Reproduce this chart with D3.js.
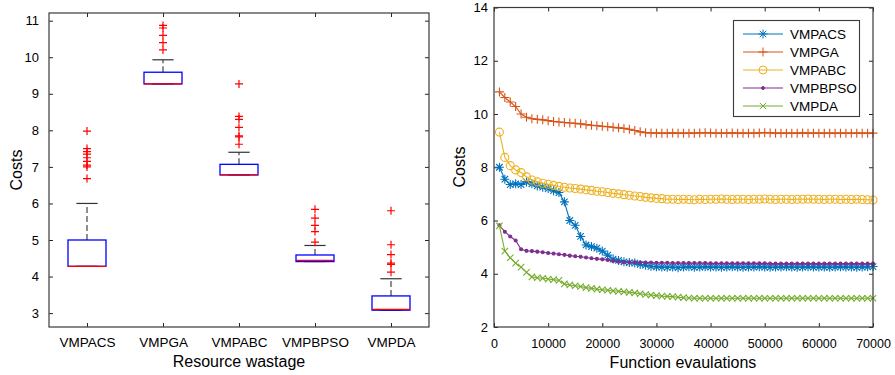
<!DOCTYPE html>
<html>
<head>
<meta charset="utf-8">
<script src="https://cdn.jsdelivr.net/npm/d3@7/dist/d3.min.js"></script>
<style>
  body { margin: 0; background: #fff; }
  svg { font-family: "Liberation Sans", Arial, Helvetica, sans-serif; }
  .tick line { stroke: #262626; }
  .tick text { fill: #000; }
</style>
</head>
<body>
<svg id="chart" width="895" height="375"></svg>
<script>
// ---- left panel: boxplot of resource wastage ----
const categories = ['VMPACS', 'VMPGA', 'VMPABC', 'VMPBPSO', 'VMPDA'];
const boxQ1 = [4.28, 9.27, 6.78, 4.41, 3.08];
const boxMedian = [4.28, 9.27, 6.78, 4.44, 3.10];
const boxQ3 = [5.00, 9.59, 7.07, 4.59, 3.47];
const whiskerLow = [4.28, 9.27, 6.78, 4.41, 3.08];
const whiskerHigh = [6.00, 9.93, 7.40, 4.85, 3.94];
const outliers = [
  [7.98, 7.50, 7.42, 7.35, 7.25, 7.15, 7.05, 7.00, 6.68],
  [10.87, 10.80, 10.60, 10.40, 10.20],
  [9.27, 8.38, 8.30, 8.08, 7.85, 7.82, 7.62],
  [5.84, 5.60, 5.40, 5.23, 4.94],
  [5.80, 4.87, 4.60, 4.37, 4.33, 4.12]
];
const boxYTicks = [3, 4, 5, 6, 7, 8, 9, 10, 11];

// ---- right panel: convergence curves ----
const evaluations = d3.range(1000, 70001, 1000);
const seriesNames = ['VMPACS', 'VMPGA', 'VMPABC', 'VMPBPSO', 'VMPDA'];
const acsCosts = [
  8.00, 7.55, 7.35, 7.38, 7.35, 7.45, 7.38, 7.30, 7.25, 7.20,
  7.12, 7.05, 6.70, 6.00, 5.82, 5.40, 5.08, 5.02, 4.96, 4.85,
  4.70, 4.55, 4.50, 4.45, 4.42, 4.40, 4.35, 4.32, 4.28, 4.26,
  4.25, 4.24, 4.25, 4.23, 4.25, 4.26, 4.24, 4.25, 4.26, 4.25,
  4.25, 4.24, 4.25, 4.26, 4.25, 4.24, 4.25, 4.25, 4.26, 4.25,
  4.24, 4.25, 4.25, 4.26, 4.25, 4.24, 4.25, 4.26, 4.25, 4.25,
  4.25, 4.24, 4.25, 4.26, 4.25, 4.25, 4.24, 4.25, 4.26, 4.27
];
const gaCosts = [
  10.83, 10.62, 10.45, 10.28, 10.00, 9.88, 9.82, 9.80, 9.78, 9.75,
  9.72, 9.70, 9.68, 9.66, 9.65, 9.63, 9.60, 9.58, 9.56, 9.54,
  9.52, 9.50, 9.48, 9.46, 9.43, 9.38, 9.33, 9.30, 9.29, 9.28,
  9.28, 9.28, 9.29, 9.28, 9.28, 9.28, 9.28, 9.29, 9.30, 9.29,
  9.28, 9.28, 9.28, 9.29, 9.28, 9.28, 9.28, 9.28, 9.29, 9.30,
  9.29, 9.28, 9.28, 9.28, 9.28, 9.28, 9.29, 9.28, 9.28, 9.28,
  9.28, 9.28, 9.28, 9.28, 9.28, 9.28, 9.28, 9.28, 9.28, 9.28
];
const abcCosts = [
  9.32, 8.37, 8.06, 7.90, 7.80, 7.64, 7.52, 7.45, 7.40, 7.36,
  7.32, 7.28, 7.25, 7.22, 7.20, 7.18, 7.15, 7.13, 7.10, 7.08,
  7.05, 7.02, 7.00, 6.97, 6.95, 6.92, 6.90, 6.87, 6.85, 6.83,
  6.82, 6.80, 6.80, 6.79, 6.80, 6.79, 6.78, 6.80, 6.79, 6.80,
  6.80, 6.81, 6.80, 6.79, 6.80, 6.80, 6.79, 6.80, 6.80, 6.81,
  6.80, 6.79, 6.80, 6.80, 6.79, 6.80, 6.80, 6.81, 6.80, 6.80,
  6.79, 6.80, 6.80, 6.79, 6.80, 6.79, 6.80, 6.79, 6.78, 6.77
];
const bpsoCosts = [
  5.82, 5.58, 5.40, 5.25, 4.92, 4.86, 4.85, 4.83, 4.81, 4.78,
  4.76, 4.73, 4.71, 4.68, 4.66, 4.64, 4.61, 4.58, 4.56, 4.54,
  4.52, 4.48, 4.45, 4.44, 4.43, 4.43, 4.42, 4.42, 4.42, 4.41,
  4.41, 4.41, 4.40, 4.40, 4.40, 4.40, 4.40, 4.40, 4.40, 4.39,
  4.39, 4.39, 4.39, 4.39, 4.39, 4.39, 4.39, 4.39, 4.39, 4.39,
  4.38, 4.38, 4.38, 4.38, 4.38, 4.38, 4.38, 4.38, 4.38, 4.38,
  4.38, 4.38, 4.38, 4.38, 4.38, 4.38, 4.38, 4.38, 4.38, 4.38
];
const daCosts = [
  5.80, 4.85, 4.60, 4.40, 4.25, 4.05, 3.88, 3.85, 3.83, 3.80,
  3.78, 3.75, 3.62, 3.58, 3.55, 3.52, 3.48, 3.45, 3.42, 3.40,
  3.38, 3.36, 3.34, 3.32, 3.30, 3.28, 3.25, 3.22, 3.20, 3.18,
  3.16, 3.15, 3.14, 3.12, 3.10, 3.09, 3.08, 3.08, 3.08, 3.08,
  3.08, 3.08, 3.08, 3.08, 3.08, 3.08, 3.08, 3.08, 3.08, 3.08,
  3.08, 3.08, 3.08, 3.08, 3.08, 3.08, 3.08, 3.08, 3.08, 3.08,
  3.08, 3.08, 3.08, 3.08, 3.08, 3.08, 3.08, 3.08, 3.08, 3.08
];
const lineXTicks = [0, 10000, 20000, 30000, 40000, 50000, 60000, 70000];
const lineYTicks = [2, 4, 6, 8, 10, 12, 14];

const seriesCosts = [acsCosts, gaCosts, abcCosts, bpsoCosts, daCosts];
const seriesStyle = [
  { color: '#0072BD', marker: 'star' },
  { color: '#D95319', marker: 'plus' },
  { color: '#EDB120', marker: 'circle' },
  { color: '#7E2F8E', marker: 'dot' },
  { color: '#77AC30', marker: 'cross' }
];

const axisColor = '#3a3a3a';
const svg = d3.select('#chart');

// marker shapes (matlab-like)
const markerPath = {
  star: s => {
    const h = s / 2, d = h * 0.72;
    return `M${-h},0H${h}M0,${-h}V${h}M${-d},${-d}L${d},${d}M${-d},${d}L${d},${-d}`;
  },
  plus: s => `M${-s / 2},0H${s / 2}M0,${-s / 2}V${s / 2}`,
  circle: s => {
    const r = s / 2;
    return `M${r},0A${r},${r} 0 1,1 ${-r},0A${r},${r} 0 1,1 ${r},0`;
  },
  dot: s => {
    const r = 1.5;
    return `M${r},0A${r},${r} 0 1,1 ${-r},0A${r},${r} 0 1,1 ${r},0`;
  },
  cross: s => {
    const h = s / 2 * 0.8;
    return `M${-h},${-h}L${h},${h}M${-h},${h}L${h},${-h}`;
  }
};
const markerSize = { star: 9, plus: 9, circle: 8, dot: 3, cross: 8 };

// =============== LEFT: boxplot ===============
{
  const x = d3.scaleLinear().domain([0.5, 5.5]).range([49, 429]);
  const y = d3.scaleLinear().domain([2.62, 11.21]).range([327, 13]);
  const g = svg.append('g').attr('class', 'boxplot');

  g.append('g')
      .attr('transform', 'translate(0,327)')
      .style('font-size', '13.5px')
      .call(d3.axisBottom(x)
        .tickValues([1, 2, 3, 4, 5])
        .tickFormat(i => categories[i - 1])
        .tickSize(-4).tickSizeOuter(0).tickPadding(10.5))
      .call(a => a.select('.domain').remove());
  g.append('g')
      .attr('transform', 'translate(0,13)')
      .call(d3.axisTop(x).tickValues([1, 2, 3, 4, 5]).tickFormat('')
        .tickSize(-4).tickSizeOuter(0))
      .call(a => a.select('.domain').remove());
  g.append('g')
      .attr('transform', 'translate(49,0)')
      .style('font-size', '13px')
      .call(d3.axisLeft(y).tickValues(boxYTicks)
        .tickSize(-4).tickSizeOuter(0).tickPadding(10))
      .call(a => a.select('.domain').remove());
  g.append('g')
      .attr('transform', 'translate(429,0)')
      .call(d3.axisRight(y).tickValues(boxYTicks).tickFormat('')
        .tickSize(-4).tickSizeOuter(0))
      .call(a => a.select('.domain').remove());

  g.append('rect')
      .attr('x', x(0.5)).attr('y', y.range()[1])
      .attr('width', x(5.5) - x(0.5)).attr('height', y.range()[0] - y.range()[1])
      .attr('fill', 'none').attr('stroke', axisColor).attr('stroke-width', 1.2);

  const boxHalf = 0.25, capHalf = 0.14;
  const boxes = g.append('g').selectAll('g')
    .data(categories.map((c, i) => ({
      i: i + 1, q1: boxQ1[i], med: boxMedian[i], q3: boxQ3[i],
      lo: whiskerLow[i], hi: whiskerHigh[i], out: outliers[i]
    })))
    .join('g');

  // whiskers
  boxes.append('line')
      .attr('x1', d => x(d.i)).attr('x2', d => x(d.i))
      .attr('y1', d => y(d.q3)).attr('y2', d => y(d.hi))
      .attr('stroke', '#444').attr('stroke-width', 1.2).attr('stroke-dasharray', '6,3');
  boxes.append('line')
      .attr('x1', d => x(d.i)).attr('x2', d => x(d.i))
      .attr('y1', d => y(d.q1)).attr('y2', d => y(d.lo))
      .attr('stroke', '#444').attr('stroke-width', 1.2).attr('stroke-dasharray', '6,3');
  // caps
  boxes.append('line')
      .attr('x1', d => x(d.i - capHalf)).attr('x2', d => x(d.i + capHalf))
      .attr('y1', d => y(d.hi)).attr('y2', d => y(d.hi))
      .attr('stroke', '#333').attr('stroke-width', 1.2);
  boxes.append('line')
      .attr('x1', d => x(d.i - capHalf)).attr('x2', d => x(d.i + capHalf))
      .attr('y1', d => y(d.lo)).attr('y2', d => y(d.lo))
      .attr('stroke', '#333').attr('stroke-width', 1.2);
  // box
  boxes.append('rect')
      .attr('x', d => x(d.i - boxHalf)).attr('y', d => y(d.q3))
      .attr('width', d => x(d.i + boxHalf) - x(d.i - boxHalf))
      .attr('height', d => y(d.q1) - y(d.q3))
      .attr('fill', 'none').attr('stroke', '#0000FF').attr('stroke-width', 1.3);
  // median
  boxes.append('line')
      .attr('x1', d => x(d.i - boxHalf)).attr('x2', d => x(d.i + boxHalf))
      .attr('y1', d => y(d.med)).attr('y2', d => y(d.med))
      .attr('stroke', '#FF0000').attr('stroke-width', 1.3);
  // outliers
  boxes.selectAll('path.out')
    .data(d => d.out.map(v => ({ i: d.i, v })))
    .join('path')
      .attr('class', 'out')
      .attr('transform', d => `translate(${x(d.i)},${y(d.v)})`)
      .attr('d', markerPath.plus(8))
      .attr('stroke', '#FF0000').attr('stroke-width', 1.2).attr('fill', 'none');

  g.append('text')
      .attr('transform', 'translate(21.5,170) rotate(-90)')
      .attr('text-anchor', 'middle')
      .style('font-size', '16px')
      .text('Costs');
  g.append('text')
      .attr('x', 239).attr('y', 367)
      .attr('text-anchor', 'middle')
      .style('font-size', '16px')
      .text('Resource wastage');
}

// =============== RIGHT: convergence ===============
{
  const x = d3.scaleLinear().domain([0, 70000]).range([494, 873]);
  const y = d3.scaleLinear().domain([2, 14]).range([327, 7.5]);
  const g = svg.append('g').attr('class', 'lines');

  g.append('g')
      .attr('transform', 'translate(0,327)')
      .style('font-size', '12.5px')
      .call(d3.axisBottom(x).tickValues(lineXTicks).tickFormat(d3.format('d'))
        .tickSize(-4).tickSizeOuter(0).tickPadding(12))
      .call(a => a.select('.domain').remove());
  g.append('g')
      .attr('transform', 'translate(0,7.5)')
      .call(d3.axisTop(x).tickValues(lineXTicks).tickFormat('')
        .tickSize(-4).tickSizeOuter(0))
      .call(a => a.select('.domain').remove());
  g.append('g')
      .attr('transform', 'translate(494,0)')
      .style('font-size', '13px')
      .call(d3.axisLeft(y).tickValues(lineYTicks)
        .tickSize(-4).tickSizeOuter(0).tickPadding(6))
      .call(a => a.select('.domain').remove());
  g.append('g')
      .attr('transform', 'translate(873,0)')
      .call(d3.axisRight(y).tickValues(lineYTicks).tickFormat('')
        .tickSize(-4).tickSizeOuter(0))
      .call(a => a.select('.domain').remove());

  const line = d3.line().x(d => x(d[0])).y(d => y(d[1]));

  const series = g.append('g').selectAll('g')
    .data(seriesNames.map((name, i) => ({
      name, style: seriesStyle[i],
      pts: evaluations.map((e, j) => [e, seriesCosts[i][j]])
    })))
    .join('g');

  series.append('path')
      .attr('d', d => line(d.pts))
      .attr('fill', 'none')
      .attr('stroke', d => d.style.color)
      .attr('stroke-width', 1.1);

  series.selectAll('path.mk')
    .data(d => d.pts.map(p => ({ p, style: d.style })))
    .join('path')
      .attr('class', 'mk')
      .attr('transform', d => `translate(${x(d.p[0])},${y(d.p[1])})`)
      .attr('d', d => markerPath[d.style.marker](markerSize[d.style.marker]))
      .attr('fill', d => d.style.marker === 'dot' ? d.style.color : 'none')
      .attr('stroke', d => d.style.color)
      .attr('stroke-width', 1.1);

  g.append('rect')
      .attr('x', x(0)).attr('y', y(14))
      .attr('width', x(70000) - x(0)).attr('height', y(2) - y(14))
      .attr('fill', 'none').attr('stroke', axisColor).attr('stroke-width', 1.2);

  // legend
  const legend = g.append('g').attr('class', 'legend');
  legend.append('rect')
      .attr('x', 733.5).attr('y', 20.5)
      .attr('width', 126).attr('height', 96)
      .attr('fill', '#fff').attr('stroke', axisColor).attr('stroke-width', 1.1);
  const item = legend.selectAll('g.item')
    .data(seriesNames.map((name, i) => ({ name, style: seriesStyle[i], i })))
    .join('g')
      .attr('class', 'item')
      .attr('transform', d => `translate(743,${34 + d.i * 18})`);
  item.append('line')
      .attr('x1', 0).attr('x2', 40)
      .attr('stroke', d => d.style.color).attr('stroke-width', 1.1);
  item.append('path')
      .attr('transform', 'translate(20,0)')
      .attr('d', d => markerPath[d.style.marker](markerSize[d.style.marker]))
      .attr('fill', d => d.style.marker === 'dot' ? d.style.color : 'none')
      .attr('stroke', d => d.style.color);
  item.append('text')
      .attr('x', 47).attr('dy', '0.35em')
      .style('font-size', '13.5px')
      .text(d => d.name);

  g.append('text')
      .attr('transform', 'translate(465,167) rotate(-90)')
      .attr('text-anchor', 'middle')
      .style('font-size', '16px')
      .text('Costs');
  g.append('text')
      .attr('x', 683).attr('y', 368)
      .attr('text-anchor', 'middle')
      .style('font-size', '16px')
      .text('Function evaulations');
}
</script>
</body>
</html>
